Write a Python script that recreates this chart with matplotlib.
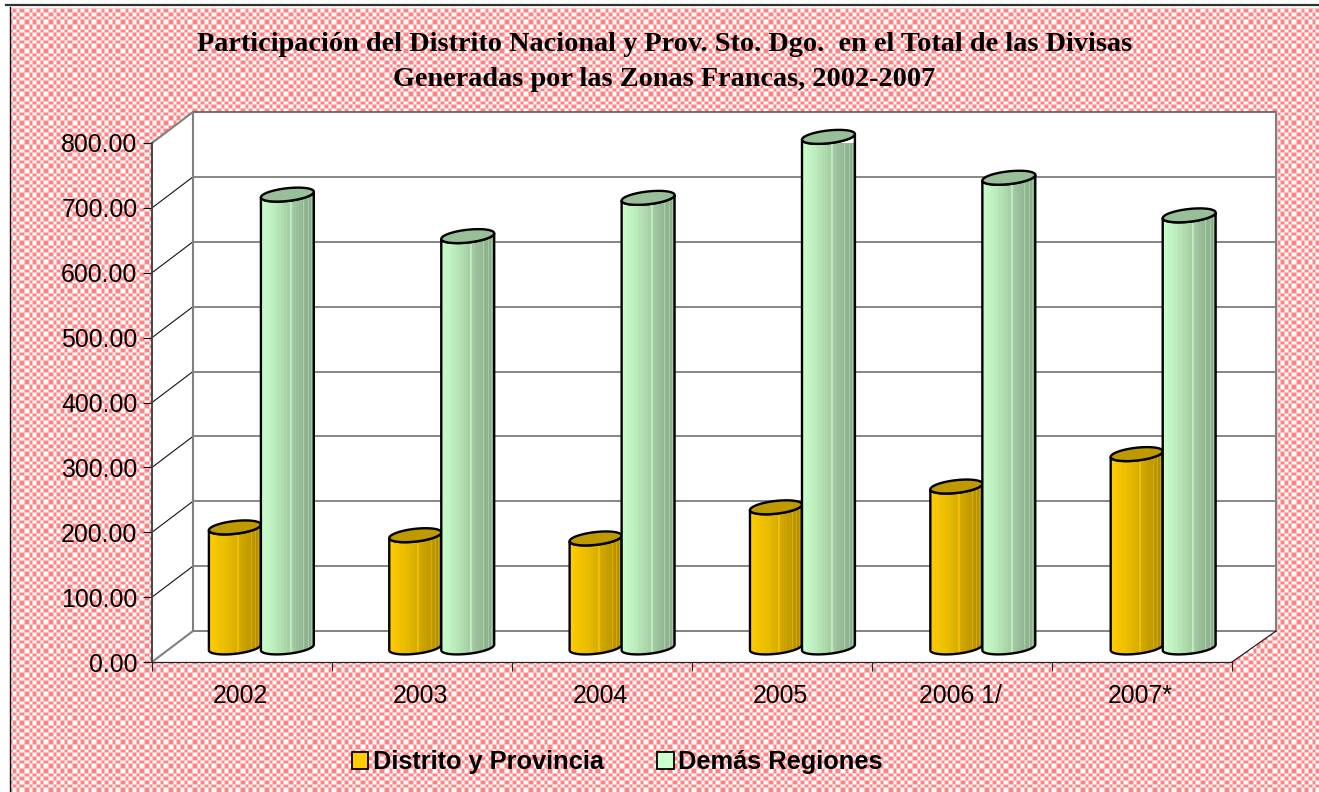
import numpy as np
import matplotlib
matplotlib.use("Agg")
import matplotlib.pyplot as plt
from matplotlib.patches import Polygon, Patch
from matplotlib.lines import Line2D
from matplotlib.transforms import Affine2D
from matplotlib.colors import LinearSegmentedColormap

# ---- data ----
years = ["2002", "2003", "2004", "2005", "2006 1/", "2007*"]
distrito = [185, 173, 168, 216, 248, 298]
demas = [698, 634, 693, 787, 724, 666]
y_ticks = [0, 100, 200, 300, 400, 500, 600, 700, 800]
series_names = ["Distrito y Provincia", "Demás Regiones"]
title_lines = "Participación del Distrito Nacional y Prov. Sto. Dgo.  en el Total de las Divisas\nGeneradas por las Zonas Francas, 2002-2007"
gold_stops = ["#FFCC00", "#E8BA00", "#C9A100", "#A98800"]
green_stops = ["#CCFFCC", "#B5E2B5", "#9BBF9B", "#86A686"]
gold_top, green_top = "#BF9900", "#99BF99"

W, H = 1319, 792
fig = plt.figure(figsize=(W / 100, H / 100), dpi=100, facecolor="white")

# patterned chart-area background (texture only)
seq = np.repeat([0, 1, 0, 1, 0, 1], [5, 3, 4, 4, 3, 5])
yy, xx = np.mgrid[0:H, 0:W]
mask = (seq[xx % seq.size] ^ seq[yy % seq.size]).astype(float)
mask = (mask + np.roll(mask, 1, 0) + np.roll(mask, 1, 1) + np.roll(np.roll(mask, 1, 0), 1, 1)) / 4
pink, white = np.array([1, .52, .52]), np.array([1, 1, 1.])
img = pink * mask[..., None] + white * (1 - mask[..., None])
img[:8, :] = 1
img[:, :10] = 1
fig.figimage(img, origin="upper", zorder=-5)
fig.add_artist(Line2D([6 / W, 1], [1 - 5 / H] * 2, color="#333333", lw=1.6))
fig.add_artist(Line2D([9.5 / W] * 2, [0, 1 - 7 / H], color="#111111", lw=1.0))

# ---- axes : front plane of the 3D box ----
L, R, T, B = 152, 1232, 143, 662
ax = fig.add_axes([L / W, 1 - B / H, (R - L) / W, (B - T) / H])
ax.patch.set_visible(False)
ax.set_zorder(2)
ax.set_xlim(0, len(years))
ax.set_ylim(0, 800)
DX, DY = 41, 31
back = ax.transData + Affine2D().translate(DX, DY)
mid = ax.transData + Affine2D().translate(DX / 2 - 0.5, DY * 0.47)
n = len(years)
top = y_ticks[-1]
wall_r = n + 3 / 180

# walls and floor
ax.add_patch(Polygon([(0, 0), (wall_r, 0), (wall_r, top), (0, top)], transform=back, fc="white", ec="none", zorder=1, clip_on=False))
ax.add_patch(Polygon([(0, 0), (0, top), (DX / 180, top + DY / .64875), (DX / 180, DY / .64875)],
                     fc="white", ec="none", zorder=1, clip_on=False))
ax.add_patch(Polygon([(0, 0), (n, 0), (wall_r + DX / 180, DY / .64875), (DX / 180, DY / .64875)],
                     fc="white", ec="none", zorder=1, clip_on=False))
for v in y_ticks:
    ax.plot([0, wall_r], [v, v], transform=back, color="#666666" if v else "#777777", lw=1.3 if v in (0, top) else 1.1, zorder=2, clip_on=False)
    is_edge = v == 0 or v == top
    ax.plot([0, DX / 180], [v, v + DY / .64875], color="#808080" if is_edge else "#111111",
            lw=1.5 if is_edge else 0.8, zorder=2, clip_on=False)
ax.plot([0, 0], [0, top], transform=back, color="#808080", lw=1.5, zorder=2, clip_on=False)
ax.plot([wall_r, wall_r], [0, top], transform=back, color="#808080", lw=1.5, zorder=2, clip_on=False)
ax.plot([n, wall_r + DX / 180], [0, DY / .64875], color="#111111", lw=0.8, zorder=2, clip_on=False)


# cylinders
def cylinder(x0, x1, value, stops, top_color, z):
    cx, a = (x0 + x1) / 2, (x1 - x0) / 2
    b, k = 6.4 / .64875, 2.8 / .64875
    t = np.linspace(0, 2 * np.pi, 120)
    tb = np.linspace(np.pi, 2 * np.pi, 60)
    body = [(cx + a * np.cos(q), 0 + b * np.sin(q) + k * np.cos(q)) for q in tb]
    body += [(cx + a * np.cos(q), value + b * np.sin(q) + k * np.cos(q)) for q in tb[::-1]]
    outline = Polygon(body, closed=True, transform=mid, fc="none", ec="black", lw=1.7, zorder=z + .2, clip_on=False)
    cmap = LinearSegmentedColormap.from_list("c", stops)
    levels = np.floor(np.linspace(0, 1, 52) * 18) / 18
    for pos in (28, 29, 41, 45, 48):
        levels[pos] = max(levels[pos] - 0.3, 0)
    im = ax.imshow(levels[None, :], extent=(x0 - .005, x1 + .005, -20, value + 20), aspect="auto", cmap=cmap,
                   vmin=0, vmax=1, transform=mid, zorder=z, interpolation="nearest")
    ax.add_patch(outline)
    im.set_clip_path(outline)
    ax.add_patch(Polygon(np.c_[cx + a * np.cos(t), value + b * np.sin(t) + k * np.cos(t)], closed=True,
                         transform=mid, fc=top_color, ec="black", lw=1.7, zorder=z + .3, clip_on=False))


bar_w, start, step = 0.289, 0.205, 1.002
for i in range(n):
    x = i * step + start
    cylinder(x, x + bar_w, distrito[i], gold_stops, gold_top, 3 + i)
    cylinder(x + bar_w, x + 2 * bar_w + .005, demas[i], green_stops, green_top, 3.5 + i)
ax.set_xlim(0, n)
ax.set_ylim(0, 800)

# axes furniture
for s in ("top", "right"):
    ax.spines[s].set_visible(False)
ax.spines["left"].set_color("#444444")
ax.spines["left"].set_linewidth(1.4)
ax.spines["bottom"].set_color("#222222")
ax.spines["bottom"].set_linewidth(0.9)
for s in ax.spines.values():
    s.set_zorder(30)
ax.set_yticks(y_ticks, [f"{v:.2f}" for v in y_ticks], fontfamily="Liberation Sans", fontsize=17.9, color="black")
ax.set_xticks(np.arange(n + 1), [""] * (n + 1))
ax.set_xticks(np.arange(n) + .49, years, minor=True, fontfamily="Liberation Sans", fontsize=17.8, color="black")
ax.tick_params(axis="y", length=6.5, width=0.8, pad=4)
ax.tick_params(axis="x", which="major", length=6.5, width=0.8, color="#222222")
ax.tick_params(axis="x", which="minor", length=0, pad=15.5)

fig.text(664.5 / W, 1 - 62 / H, title_lines, ha="center", va="center", family="Liberation Serif",
         fontweight="bold", fontsize=20.3, color="black", linespacing=1.53)

handles = [Patch(fc=gold_stops[0], ec="black", lw=1.3), Patch(fc=green_stops[0], ec="black", lw=1.3)]
fig.legend(handles, series_names, loc="center", bbox_to_anchor=(617 / W, 1 - 762 / H), ncol=2, frameon=False,
           handlelength=0.66, handleheight=0.66, handletextpad=0.16, columnspacing=2.1,
           prop={"family": "Liberation Sans", "weight": "bold", "size": 18.3})

fig.savefig("out.png", dpi=100)
